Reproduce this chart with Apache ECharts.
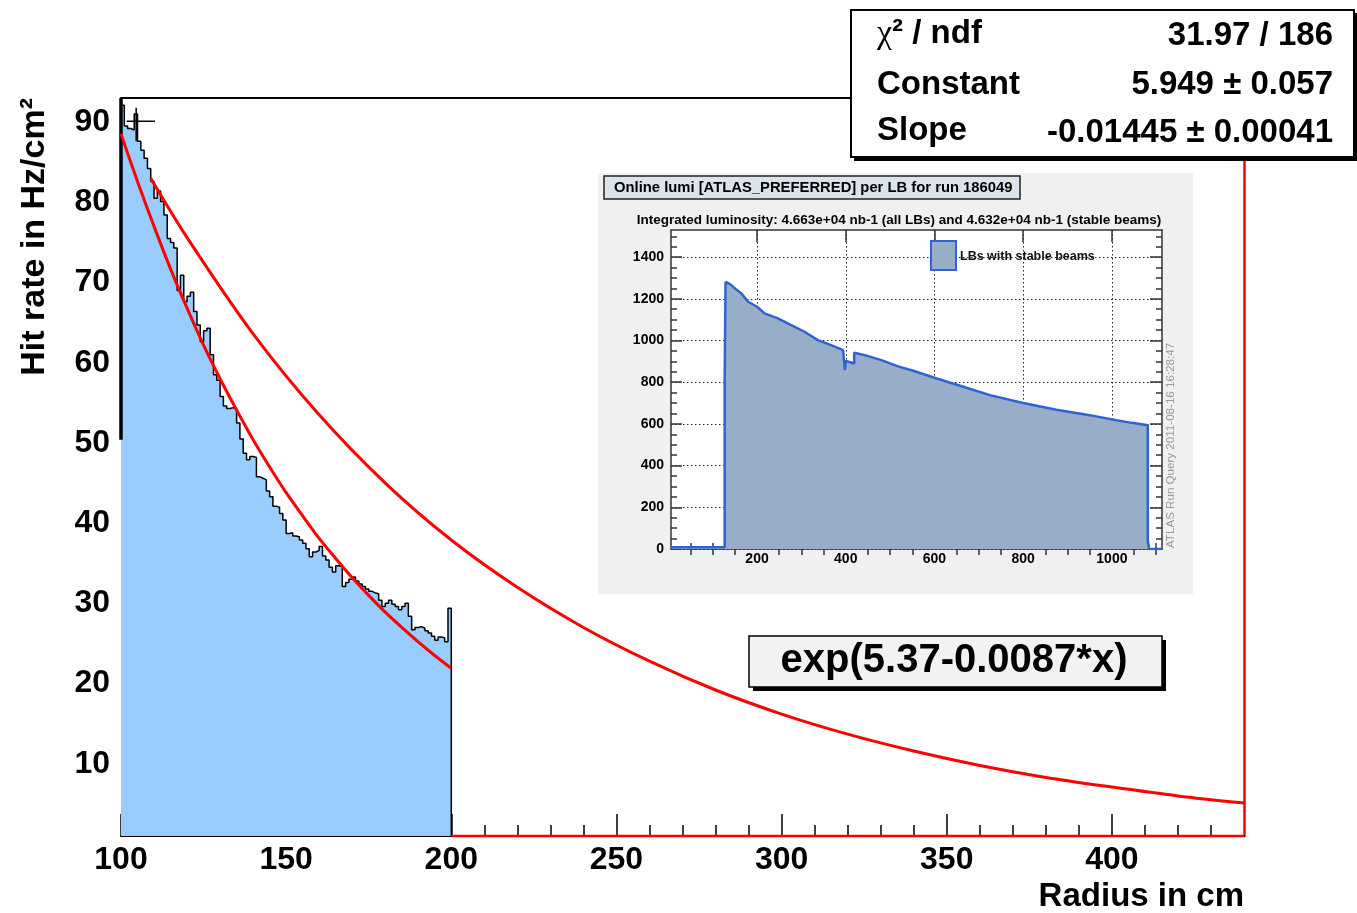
<!DOCTYPE html>
<html>
<head>
<meta charset="utf-8">
<script src="https://cdn.jsdelivr.net/npm/echarts@6/dist/echarts.min.js"></script>
<style>html,body{margin:0;padding:0;background:#fff}#c{width:1357px;height:913px}</style>
</head>
<body>
<div id="c"></div>
<script>
// ---------------- DATA ----------------
// Main histogram: hit rate per 1 cm radius bin, starting at 100 cm
const binLow = 100;
const binWidth = 1;
const hitRate = [
  92.1, 89.5, 89.2, 89.0, 91.0, 87.6, 86.5, 85.5, 84.2, 82.6,
  80.5, 81.4, 80.1, 78.4, 75.5, 75.0, 74.3, 69.0, 70.9, 67.6,
  68.3, 68.8, 66.4, 64.7, 62.6, 64.0, 64.3, 61.0, 58.5, 57.8,
  55.8, 54.6, 54.3, 54.4, 54.2, 52.5, 50.5, 48.7, 47.9, 48.3,
  48.2, 45.8, 45.6, 45.4, 44.0, 43.3, 42.1, 42.0, 41.2, 40.4,
  38.7, 38.8, 38.4, 38.3, 37.9, 37.5, 36.8, 35.8, 36.4, 36.6,
  37.1, 35.9, 35.4, 34.5, 33.9, 34.7, 34.6, 32.1, 32.6, 33.0,
  33.3, 32.8, 32.4, 32.1, 31.8, 31.5, 31.3, 31.2, 30.4, 29.6,
  30.0, 30.4, 29.9, 29.6, 29.2, 29.6, 30.0, 28.4, 26.7, 27.0,
  27.1, 26.9, 26.6, 26.3, 25.9, 25.4, 25.8, 25.7, 25.2, 29.4
];
// Fit of the histogram
const fitRadius = [100, 105, 110, 115, 120, 125, 130, 135, 140, 145, 150, 155, 160, 165, 170, 175, 180, 185, 190, 195, 200];
const fitRate   = [88.5, 82.6, 77.0, 71.7, 66.8, 62.2, 58.0, 54.1, 50.4, 47.0, 43.8, 40.9, 38.1, 35.6, 33.2, 31.0, 28.9, 27.0, 25.2, 23.5, 21.9];
// Extrapolation exp(5.37-0.0087*x)
const extRadius = [109, 120, 140, 160, 180, 200, 220, 240, 260, 280, 300, 320, 340, 360, 380, 400, 420, 440];
const extRate   = [83.0, 75.6, 63.6, 53.5, 45.0, 37.9, 32.0, 27.0, 22.8, 19.2, 16.2, 13.7, 11.6, 9.8, 8.3, 7.1, 6.0, 5.1];
// Red zero line beyond the histogram
const zeroRadius = [200, 440];
// First point marker with error bars: x, y, xlow, xhigh, ylow, yhigh
const firstPoint = [[104.6, 90.1, 101.7, 110.3, 87.6, 91.8]];
// Left frame edge piece (black) : radius, rate
const leftEdge = [[100, 93], [100, 50.4]];

// Tick labels main plot
const xTickLabels = [100, 150, 200, 250, 300, 350, 400];
const yTickLabels = [10, 20, 30, 40, 50, 60, 70, 80, 90];

// Inset: luminosity per LB
const lumiLB  = [6, 127, 127, 129, 129, 135, 142, 150, 165, 180, 200, 217, 247, 277, 307, 337, 367, 394, 398, 398,
                 400, 400, 410, 419, 419, 426, 443, 480, 518, 552, 605, 665, 725, 800, 875, 950, 1010, 1045, 1081, 1081,
                 1084, 1084, 1113];
const lumiVal = [8, 8, 810, 810, 1281, 1275, 1266, 1250, 1225, 1186, 1162, 1130, 1106, 1074, 1042, 1002, 978, 954, 948, 858,
                 858, 902, 896, 890, 941, 938, 930, 906, 876, 855, 818, 778, 738, 700, 668, 642, 618, 605, 594, 40,
                 40, 0, 0];
const lumiXTickLabels = [200, 400, 600, 800, 1000];
const lumiYTickLabels = [0, 200, 400, 600, 800, 1000, 1200, 1400];

// ---------------- BUILD ----------------
const histData = [];
hitRate.forEach((v, i) => histData.push([binLow + i * binWidth, v]));
const binHigh = binLow + hitRate.length * binWidth;
histData.push([binHigh, hitRate[hitRate.length - 1]]);
histData.push([binHigh, 1]);

const fitData = fitRadius.map((x, i) => [x, fitRate[i]]);
const extData = extRadius.map((x, i) => [x, extRate[i]]);
const zeroData = zeroRadius.map(x => [x, 1]);
const lumiData = lumiLB.map((x, i) => [x, lumiVal[i]]);

const xMinor = [];
for (let v = 110; v < 440; v += 10) if (v % 50 !== 0) xMinor.push(v);
const lxMinor = [];
for (let v = 50; v < 1113; v += 50) if (v % 200 !== 0) lxMinor.push(v);
const lyMinor = [];
for (let v = 50; v < 1530; v += 50) if (v % 200 !== 0) lyMinor.push(v);

const FONT = 'Liberation Sans';
const noSplit = { show: false };
const hidden = { show: false };
const plain = v => String(v);

function valAxis(o) {
  return Object.assign({ type: 'value', splitLine: noSplit, axisLabel: hidden, axisTick: hidden, axisLine: hidden }, o);
}

const option = {
  animation: false,
  backgroundColor: '#ffffff',
  grid: [
    { left: 121, top: 98, width: 1123, height: 738, show: false },
    { left: 671, top: 230, width: 491, height: 319, show: false }
  ],
  xAxis: [
    valAxis({ gridIndex: 0, min: 100, max: 440, position: 'bottom',
      axisLine: { show: true, onZero: false, lineStyle: { color: '#000', width: 2 } },
      axisTick: { show: true, inside: true, length: 22, customValues: xTickLabels, lineStyle: { color: '#000', width: 1.5 } },
      axisLabel: { show: true, customValues: xTickLabels, formatter: plain, margin: 8, color: '#000', fontFamily: FONT, fontWeight: 'bold', fontSize: 32 } }),
    valAxis({ gridIndex: 0, min: 100, max: 440, position: 'bottom',
      axisTick: { show: true, inside: true, length: 11, customValues: xMinor, lineStyle: { color: '#000', width: 1.5 } } }),
    valAxis({ gridIndex: 0, min: 100, max: 440, position: 'top',
      axisLine: { show: true, onZero: false, lineStyle: { color: '#000', width: 2 } } }),
    // inset
    valAxis({ gridIndex: 1, min: 6, max: 1113, position: 'bottom',
      axisLine: { show: true, onZero: false, lineStyle: { color: '#333', width: 1.5 } },
      axisTick: { show: true, inside: true, length: 12, customValues: lumiXTickLabels, lineStyle: { color: '#333', width: 1.5 } },
      axisLabel: { show: true, customValues: lumiXTickLabels, formatter: plain, margin: 3, color: '#000', fontFamily: FONT, fontWeight: 'bold', fontSize: 14 },
      splitLine: { show: true, lineStyle: { type: [1.5, 2.5], color: '#222', width: 1 } } }),
    valAxis({ gridIndex: 1, min: 6, max: 1113, position: 'bottom',
      axisTick: { show: true, inside: true, length: 6, customValues: lxMinor, lineStyle: { color: '#333', width: 1.5 } } }),
    valAxis({ gridIndex: 1, min: 6, max: 1113, position: 'top',
      axisLine: { show: true, onZero: false, lineStyle: { color: '#333', width: 1.5 } },
      axisTick: { show: true, inside: true, length: 12, customValues: lumiXTickLabels, lineStyle: { color: '#333', width: 1.5 } } }),
    valAxis({ gridIndex: 1, min: 6, max: 1113, position: 'top',
      axisTick: { show: true, inside: true, length: 6, customValues: lxMinor, lineStyle: { color: '#333', width: 1.5 } } })
  ],
  yAxis: [
    valAxis({ gridIndex: 0, min: 1, max: 93, position: 'left',
      axisLabel: { show: true, customValues: yTickLabels, formatter: plain, margin: 11, color: '#000', fontFamily: FONT, fontWeight: 'bold', fontSize: 32 } }),
    valAxis({ gridIndex: 0, min: 1, max: 93, position: 'right',
      axisLine: { show: true, onZero: false, lineStyle: { color: '#ff0000', width: 2.5 } } }),
    // inset
    valAxis({ gridIndex: 1, min: 0, max: 1530, position: 'left',
      axisLine: { show: true, onZero: false, lineStyle: { color: '#333', width: 1.5 } },
      axisTick: { show: true, inside: false, length: 0.01, customValues: lumiYTickLabels },
      axisLabel: { show: true, customValues: lumiYTickLabels, formatter: plain, margin: 7, color: '#000', fontFamily: FONT, fontWeight: 'bold', fontSize: 14 },
      splitLine: { show: true, lineStyle: { type: [1.5, 2.5], color: '#222', width: 1 } } }),
    valAxis({ gridIndex: 1, min: 0, max: 1530, position: 'left',
      axisTick: { show: true, inside: true, length: 11, customValues: lumiYTickLabels, lineStyle: { color: '#333', width: 1.5 } } }),
    valAxis({ gridIndex: 1, min: 0, max: 1530, position: 'left',
      axisTick: { show: true, inside: true, length: 6, customValues: lyMinor, lineStyle: { color: '#333', width: 1.5 } } }),
    valAxis({ gridIndex: 1, min: 0, max: 1530, position: 'right',
      axisLine: { show: true, onZero: false, lineStyle: { color: '#333', width: 1.5 } },
      axisTick: { show: true, inside: true, length: 12, customValues: lumiYTickLabels, lineStyle: { color: '#333', width: 1.5 } } }),
    valAxis({ gridIndex: 1, min: 0, max: 1530, position: 'right',
      axisTick: { show: true, inside: true, length: 6, customValues: lyMinor, lineStyle: { color: '#333', width: 1.5 } } })
  ],
  series: [
    { name: 'hits', type: 'line', xAxisIndex: 0, yAxisIndex: 0, step: 'end', data: histData,
      showSymbol: false, clip: false, z: 3,
      lineStyle: { color: '#000', width: 1.5 }, areaStyle: { color: '#99ccff', opacity: 1 } },
    { name: 'leftEdge', type: 'line', xAxisIndex: 0, yAxisIndex: 0, data: leftEdge, showSymbol: false, clip: false, z: 4,
      lineStyle: { color: '#000', width: 3.5 } },
    { name: 'fit', type: 'line', xAxisIndex: 0, yAxisIndex: 0, data: fitData, smooth: 0.3, showSymbol: false, z: 5,
      lineStyle: { color: '#ff0000', width: 3 } },
    { name: 'ext', type: 'line', xAxisIndex: 0, yAxisIndex: 0, data: extData, smooth: 0.3, showSymbol: false, z: 5,
      lineStyle: { color: '#ff0000', width: 3 } },
    { name: 'zero', type: 'line', xAxisIndex: 0, yAxisIndex: 0, data: zeroData, showSymbol: false, clip: false, z: 5,
      lineStyle: { color: '#ff0000', width: 2.5 } },
    { name: 'point', type: 'custom', xAxisIndex: 0, yAxisIndex: 0, data: firstPoint, z: 6,
      renderItem: function (params, api) {
        const xl = api.coord([api.value(2), api.value(1)]);
        const xr = api.coord([api.value(3), api.value(1)]);
        const yb = api.coord([api.value(0), api.value(4)]);
        const yt = api.coord([api.value(0), api.value(5)]);
        return { type: 'group', children: [
          { type: 'line', shape: { x1: xl[0], y1: xl[1], x2: xr[0], y2: xr[1] }, style: { stroke: '#000', lineWidth: 1.5 } },
          { type: 'line', shape: { x1: yb[0], y1: yb[1], x2: yt[0], y2: yt[1] }, style: { stroke: '#000', lineWidth: 1.5 } }
        ] };
      } },
    { name: 'LBs with stable beams', type: 'line', xAxisIndex: 3, yAxisIndex: 2, data: lumiData, showSymbol: false, z: 3,
      lineStyle: { color: '#2f63d2', width: 2.5 }, areaStyle: { color: '#98aec8', opacity: 1 } }
  ],
  graphic: [
    // inset background and plot area
    { type: 'rect', z: -10, shape: { x: 598, y: 173, width: 595, height: 421 }, style: { fill: '#f0f0f0' } },
    { type: 'rect', z: -9, shape: { x: 671, y: 230, width: 491, height: 319 }, style: { fill: '#ffffff' } },
    { type: 'rect', z: 10, shape: { x: 604, y: 176, width: 416, height: 23 }, style: { fill: '#dde3ea', stroke: '#222', lineWidth: 1.5 } },
    { type: 'text', z: 11, x: 614, y: 188, style: { text: 'Online lumi [ATLAS_PREFERRED] per LB for run 186049', fill: '#000',
      font: 'bold 14.8px "Liberation Sans"', verticalAlign: 'middle', align: 'left' } },
    { type: 'text', z: 11, x: 899, y: 220, style: { text: 'Integrated luminosity: 4.663e+04 nb-1 (all LBs) and 4.632e+04 nb-1 (stable beams)', fill: '#000',
      font: 'bold 13.5px "Liberation Sans"', verticalAlign: 'middle', align: 'center' } },
    { type: 'rect', z: 11, shape: { x: 931, y: 241, width: 25, height: 29 }, style: { fill: '#98aec8', stroke: '#2f63d2', lineWidth: 2 } },
    { type: 'text', z: 11, x: 960, y: 257, style: { text: 'LBs with stable beams', fill: '#111',
      font: 'bold 12.5px "Liberation Sans"', verticalAlign: 'middle', align: 'left' } },
    { type: 'text', z: 11, x: 1171, y: 548, rotation: Math.PI / 2, style: { text: 'ATLAS Run Query 2011-08-16 16:28:47', fill: '#9a9a9a',
      font: '11.6px "Liberation Sans"', verticalAlign: 'middle', align: 'left' } },
    // stats box
    { type: 'rect', z: 20, shape: { x: 854, y: 13, width: 503, height: 148 }, style: { fill: '#000' } },
    { type: 'rect', z: 21, shape: { x: 851, y: 10, width: 503, height: 147 }, style: { fill: '#fff', stroke: '#000', lineWidth: 2 } },
    { type: 'text', z: 22, x: 877, y: 34, style: { text: '{g|χ}² / ndf', fill: '#000', font: 'bold 33px "Liberation Sans"',
      verticalAlign: 'middle', align: 'left', rich: { g: { fontFamily: 'Liberation Serif', fontWeight: 'normal', fontSize: 34, fill: '#000' } } } },
    { type: 'text', z: 22, x: 877, y: 85, style: { text: 'Constant', fill: '#000', font: 'bold 33px "Liberation Sans"', verticalAlign: 'middle', align: 'left' } },
    { type: 'text', z: 22, x: 877, y: 131, style: { text: 'Slope', fill: '#000', font: 'bold 33px "Liberation Sans"', verticalAlign: 'middle', align: 'left' } },
    { type: 'text', z: 22, x: 1333, y: 36, style: { text: '31.97 / 186', fill: '#000', font: 'bold 33px "Liberation Sans"', verticalAlign: 'middle', align: 'right' } },
    { type: 'text', z: 22, x: 1333, y: 85, style: { text: '5.949 ± 0.057', fill: '#000', font: 'bold 33px "Liberation Sans"', verticalAlign: 'middle', align: 'right' } },
    { type: 'text', z: 22, x: 1333, y: 133, style: { text: '-0.01445 ± 0.00041', fill: '#000', font: 'bold 33px "Liberation Sans"', verticalAlign: 'middle', align: 'right' } },
    // formula label
    { type: 'rect', z: 20, shape: { x: 753, y: 640, width: 413, height: 51 }, style: { fill: '#000' } },
    { type: 'rect', z: 21, shape: { x: 749, y: 636, width: 413, height: 51 }, style: { fill: '#f2f2f2', stroke: '#000', lineWidth: 1.5 } },
    { type: 'text', z: 22, x: 954, y: 661, style: { text: 'exp(5.37-0.0087*x)', fill: '#000', font: 'bold 40px "Liberation Sans"', verticalAlign: 'middle', align: 'center' } },
    // axis titles
    { type: 'text', z: 22, x: 35, y: 98, rotation: Math.PI / 2, style: { text: 'Hit rate in Hz/cm²', fill: '#000',
      font: 'bold 34px "Liberation Sans"', verticalAlign: 'middle', align: 'right' } },
    { type: 'text', z: 22, x: 1244, y: 897, style: { text: 'Radius in cm', fill: '#000',
      font: 'bold 33px "Liberation Sans"', verticalAlign: 'middle', align: 'right' } }
  ]
};

const chart = echarts.init(document.getElementById('c'), null, { renderer: 'canvas' });
chart.setOption(option);
</script>
</body>
</html>
